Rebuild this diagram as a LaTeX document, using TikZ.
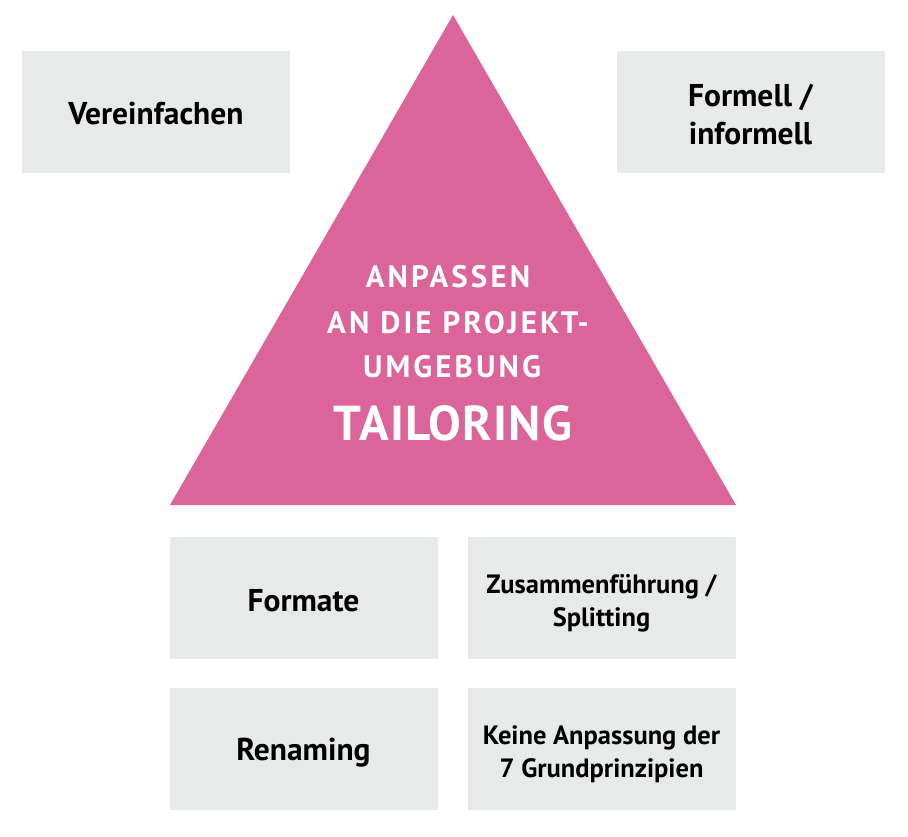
\documentclass[tikz,border=0pt]{standalone}
\usepackage{fontspec}
\setmainfont{PT Sans}
\definecolor{tpink}{RGB}{219,100,154}
\definecolor{tgray}{RGB}{232,233,233}
\begin{document}
\begin{tikzpicture}[x=1pt,y=-1pt,
  greybox/.style={fill=tgray,draw=none,minimum width=268pt,minimum height=122pt,inner sep=0pt},
  boxtext/.style={align=center,inner sep=0pt,font=\bfseries\fontsize{31.5}{38}\selectfont},
  smalltext/.style={boxtext,font=\bfseries\fontsize{26.5}{33}\selectfont},
  tritext/.style={text=white,anchor=base,inner sep=0pt,font=\bfseries\fontsize{31}{38}\selectfont\addfontfeature{LetterSpace=10}},
  bigtext/.style={tritext,font=\bfseries\fontsize{49}{55}\selectfont\addfontfeature{LetterSpace=3}}]
\useasboundingbox (0,0) rectangle (908,836);
\fill[white] (0,0) rectangle (908,836);
\coordinate (apex) at (453,15);
\coordinate (bl) at (170,505);
\coordinate (br) at (736,505);
\fill[tpink] (apex) -- (br) -- (bl) -- cycle;
\node[greybox] (vereinf) at (156,112) {};
\node[greybox] (formell) at (750.5,112) {};
\node[greybox] (formate) at (303.5,598) {};
\node[greybox] (zusammen) at (601.5,598) {};
\node[greybox] (renaming) at (303.5,749) {};
\node[greybox] (keine) at (601.5,749) {};
\node[boxtext] (vereinf-t) at (156,114) {Vereinfachen};
\node[boxtext] (formell-t) at (750.5,115) {Formell /\\informell};
\node[boxtext] (formate-t) at (303.5,601) {Formate};
\node[smalltext] (zusammen-t) at (601.5,603) {Zusammenführung /\\Splitting};
\node[boxtext] (renaming-t) at (303.5,753) {Renaming};
\node[smalltext] (keine-t) at (601.5,754) {Keine Anpassung der\\7 Grundprinzipien};
\node[tritext] (anp1) at (448,287) {ANPASSEN};
\node[tritext] (anp2) at (458,333) {AN DIE PROJEKT-};
\node[tritext] (anp3) at (452,377) {UMGEBUNG};
\node[bigtext] (tailoring) at (453,440) {TAILORING};
\end{tikzpicture}
\end{document}
